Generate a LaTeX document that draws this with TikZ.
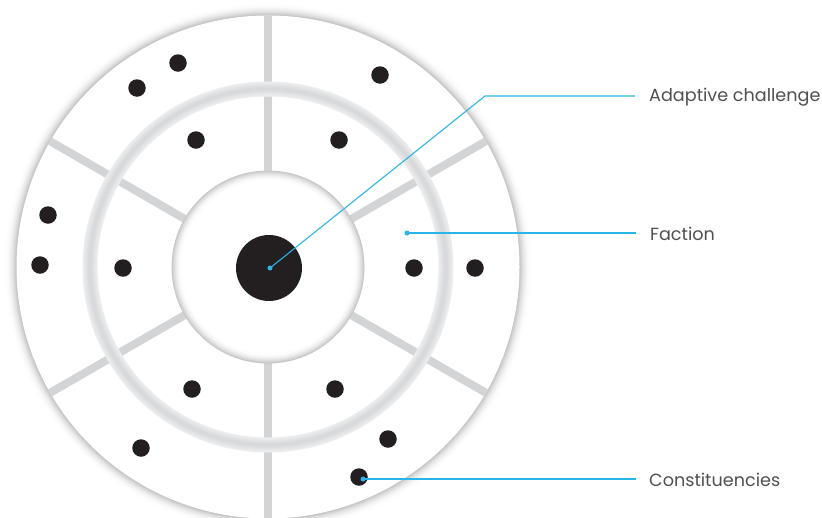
\documentclass[tikz,border=0pt]{standalone}
\usepackage{fontspec}
\setmainfont{Poppins}
\definecolor{spokegray}{HTML}{D3D4D6}
\definecolor{ringgray}{HTML}{D4D5D7}
\definecolor{ringlight}{HTML}{EDEEEF}
\definecolor{ink}{HTML}{231F20}
\definecolor{leadblue}{HTML}{29B5E8}
\definecolor{txt}{HTML}{505050}
\begin{document}
\begin{tikzpicture}[x=1pt,y=-1pt,
  dot/.style={circle,fill=ink,inner sep=0pt,minimum size=17.5pt},
  leader/.style={leadblue,line width=1.1pt},
  tipdot/.style={circle,fill=leadblue,inner sep=0pt,minimum size=5pt},
  lbl/.style={anchor=west,inner sep=0pt,text=txt,font=\fontsize{17.6}{21}\selectfont},
  spoke/.style={spokegray,line width=8pt}]
\useasboundingbox (0,0) rectangle (822,517);
\fill[white] (0,0) rectangle (822,517);
\coordinate (c) at (268,267);
% outer glow
\foreach \i in {12,...,0}{
  \pgfmathsetmacro\g{24*(1-\i/12)*(1-\i/12)}
  \pgfmathsetmacro\r{252+\i}
  \fill[black!\g] (c) circle (\r pt);
}
\fill[white] (c) circle (251.5pt);
% spokes
\foreach \a in {30,90,150,210,270,330}{
  \draw[spoke] (c) ++(\a:90pt) -- ++(\a:161.5pt);
}
% middle ring (tube-like gradient)
\foreach \j in {0,...,7}{
  \pgfmathsetmacro\w{15-1.8*\j}
  \pgfmathsetmacro\m{100-12*\j}
  \draw[ringlight!\m!ringgray,line width=\w pt] (c) circle (178pt);
}
% inner disk with inner shadow
\foreach \i in {0,...,10}{
  \pgfmathsetmacro\g{22*(1-\i/10)*(1-\i/10)}
  \pgfmathsetmacro\r{96.5-\i}
  \fill[black!\g] (c) circle (\r pt);
}
\fill[white] (c) circle (86pt);
% centre
\node[circle,fill=ink,inner sep=0pt,minimum size=66pt] (core) at (269,268) {};
% dots
\node[dot] (d1) at (178,63) {};
\node[dot] (d2) at (137,88) {};
\node[dot] (d3) at (196,140) {};
\node[dot] (d4) at (380,75) {};
\node[dot] (d5) at (339,140) {};
\node[dot] (d6) at (48,215) {};
\node[dot] (d7) at (40,265) {};
\node[dot] (d8) at (123,268) {};
\node[dot] (d9) at (414,268) {};
\node[dot] (d10) at (475,268) {};
\node[dot] (d11) at (192,389) {};
\node[dot] (d12) at (141,448) {};
\node[dot] (d13) at (335,389) {};
\node[dot] (d14) at (388,439) {};
\node[dot] (d15) at (359,477) {};
% leaders and labels
\node[tipdot] (t1) at (270,268) {};
\coordinate (b1) at (485,96);
\coordinate (e1) at (635,96);
\node[lbl] (l1) at (649,97) {Adaptive challenge};
\draw[leader] (t1.center) -- (b1) -- (e1);
\node[tipdot] (t2) at (407,233) {};
\coordinate (e2) at (636,233);
\node[lbl] (l2) at (650,234) {Faction};
\draw[leader] (t2.center) -- (e2);
\node[tipdot] (t3) at (363,479) {};
\coordinate (e3) at (636,479);
\node[lbl] (l3) at (649,480) {Constituencies};
\draw[leader] (t3.center) -- (e3);
\end{tikzpicture}
\end{document}
